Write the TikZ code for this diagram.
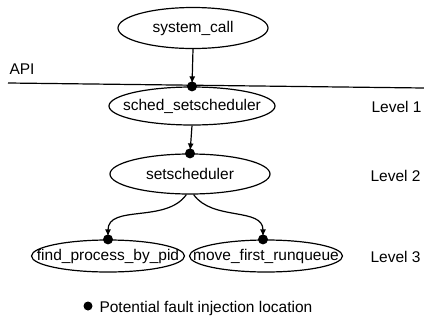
\documentclass[tikz,border=0pt]{standalone}
\usepackage{fontspec}
\setmainfont{Liberation Sans}
\usetikzlibrary{shapes.geometric,arrows.meta}
\begin{document}
\begin{tikzpicture}[x=1pt,y=-1pt,
  font=\fontsize{15.5}{18}\selectfont,
  fn/.style={draw,ellipse,line width=1.2pt,inner sep=0pt},
  conn/.style={line width=1.2pt,-{Latex[length=7pt,width=6pt]},shorten >=3pt},
  dotmark/.style={circle,fill=black,inner sep=0pt,minimum size=10pt},
  lvl/.style={anchor=west}]
\useasboundingbox[fill=white] (0,0) rectangle (424,330);
% function nodes
\node[fn,minimum width=150pt,minimum height=41pt,label={center:system\_call}] (sc) at (193,28) {};
\node[fn,minimum width=166pt,minimum height=38pt,label={center:sched\_setscheduler}] (ss) at (192,106) {};
\node[fn,minimum width=160pt,minimum height=40pt,label={center:setscheduler}] (st) at (190,174) {};
\node[fn,minimum width=153pt,minimum height=32pt,label={center:find\_process\_by\_pid}] (fp) at (108,256) {};
\node[fn,minimum width=153pt,minimum height=32pt,label={center:move\_first\_runqueue}] (mf) at (266,256) {};
% API line
\coordinate (apiL) at (8,83);
\coordinate (apiR) at (424,88);
\draw[line width=1.2pt] (apiL) -- (apiR);
\node[anchor=west] (api) at (6,69) {API};
% connectors
\draw[conn] (sc.south) -- (ss.north);
\draw[conn] (ss.south) -- (st.north);
\draw[conn] (st.-100) to[out=-125,in=90] (fp.north);
\draw[conn] (st.-80) to[out=-55,in=90] ([xshift=-3pt]mf.north);
% fault injection dots
\node[dotmark] (d1) at (ss.north) {};
\node[dotmark] (d2) at (st.north) {};
\node[dotmark] (d3) at (fp.north) {};
\node[dotmark] (d4) at ([xshift=-3pt]mf.north) {};
% level labels
\node[lvl] (l1) at (368,107) {Level 1};
\node[lvl] (l2) at (367,176) {Level 2};
\node[lvl] (l3) at (367,257) {Level 3};
% legend
\node[dotmark,minimum size=9pt] (ld) at (88,306) {};
\node[anchor=west] (lt) at (96,308) {Potential fault injection location};
\end{tikzpicture}
\end{document}
